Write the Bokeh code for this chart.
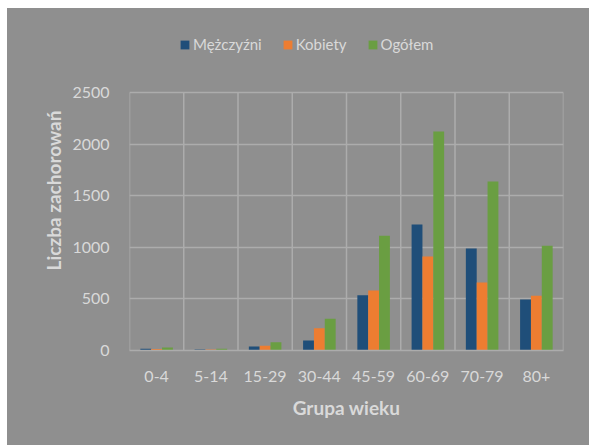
from bokeh.plotting import figure
from bokeh.models import ColumnDataSource, Range1d, FixedTicker, Legend, LegendItem
from bokeh.embed import file_html
from bokeh.resources import INLINE

categories = ["0-4", "5-14", "15-29", "30-44", "45-59", "60-69", "70-79", "80+"]
men = [16, 9, 39, 97, 536, 1221, 988, 494]
women = [15, 9, 45, 216, 581, 911, 659, 530]
total = [29, 17, 80, 307, 1111, 2122, 1638, 1014]
series_names = ["Mężczyźni", "Kobiety", "Ogółem"]
colors = ["#1f4e79", "#ed7d31", "#6a9e42"]
y_ticks = [0, 500, 1000, 1500, 2000, 2500]

BG = "#8f8f8f"
TXT = "#d9d9d9"
GRID = "#acacac"
FONT = "Lato"

idx = list(range(len(categories)))
# the frame extends above the top tick to leave room for the legend inside it
p = figure(width=582, height=437, output_backend="svg", toolbar_location=None,
           x_range=Range1d(0, len(categories)), y_range=Range1d(0, 3100),
           min_border_left=122, min_border_right=26, min_border_top=22, min_border_bottom=95)
p.margin = (8, 0, 0, 7)
p.styles = {"background-color": BG}
p.background_fill_color = BG
p.border_fill_color = None
p.outline_line_color = None

# vertical grid lines at category boundaries, up to the top tick
bounds = list(range(len(categories) + 1))
p.segment(x0=bounds, x1=bounds, y0=[y_ticks[0]] * len(bounds), y1=[y_ticks[-1]] * len(bounds),
          line_color=GRID, line_width=1.5)

bar_w = 0.2
renderers = []
for k, (vals, col) in enumerate(zip([men, women, total], colors)):
    src = ColumnDataSource(dict(x=[i + 0.5 + (k - 1) * bar_w for i in idx], top=vals))
    r = p.vbar(x="x", top="top", bottom=0, width=bar_w, source=src, fill_color=col, line_color=None)
    renderers.append(r)

# axes
p.xaxis.ticker = FixedTicker(ticks=[i + 0.5 for i in idx])
p.xaxis.major_label_overrides = {i + 0.5: c for i, c in zip(idx, categories)}
p.yaxis.ticker = FixedTicker(ticks=y_ticks)
p.yaxis.bounds = (y_ticks[0], y_ticks[-1])
for ax in (p.xaxis[0], p.yaxis[0]):
    ax.major_tick_line_color = None
    ax.minor_tick_line_color = None
    ax.major_label_text_color = TXT
    ax.major_label_text_font = FONT
    ax.major_label_text_font_size = "16px"
    ax.axis_label_text_color = TXT
    ax.axis_label_text_font = FONT
    ax.axis_label_text_font_style = "bold"
    ax.axis_label_text_font_size = "19px"
p.xaxis.axis_line_color = GRID
p.xaxis.axis_line_width = 1.5
p.yaxis.axis_line_color = None
p.xaxis.axis_label = "Grupa wieku"
p.yaxis.axis_label = "Liczba zachorowań"
p.xaxis.major_label_standoff = 14
p.yaxis.major_label_standoff = 14
p.xaxis.axis_label_standoff = 11
p.yaxis.axis_label_standoff = 4

p.xgrid.visible = False
p.ygrid.ticker = FixedTicker(ticks=y_ticks)
p.ygrid.grid_line_color = GRID
p.ygrid.grid_line_width = 1.5

legend = Legend(items=[LegendItem(label=n, renderers=[r]) for n, r in zip(series_names, renderers)],
                location=(50, 297), orientation="horizontal")
legend.background_fill_alpha = 0
legend.border_line_color = None
legend.padding = 0
legend.margin = 0
legend.spacing = 20
legend.glyph_width = 11
legend.glyph_height = 11
legend.label_height = 15
legend.label_standoff = 3
legend.label_text_color = TXT
legend.label_text_font = FONT
legend.label_text_font_size = "15px"
p.add_layout(legend, "center")

open("out.html", "w").write(file_html(p, INLINE))
